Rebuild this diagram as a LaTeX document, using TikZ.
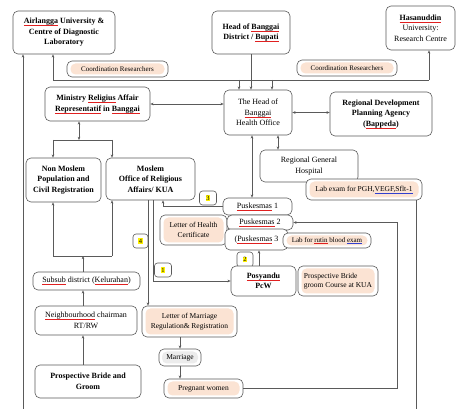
\documentclass[tikz,border=0pt]{standalone}
\usepackage{fontspec}
\setmainfont{Liberation Serif}
\usepackage{tikz}
\usetikzlibrary{positioning,arrows.meta}
\definecolor{notepeach}{HTML}{FBE3D3}
\definecolor{linegray}{HTML}{5A5A5A}
\definecolor{spellred}{HTML}{E02020}
\definecolor{spellblue}{HTML}{3040D0}
\newlength\spellwd
\newcommand\redul[1]{\settowidth{\spellwd}{#1}\rlap{\textcolor{spellred}{\rule[-0.5ex]{\spellwd}{0.45pt}}}#1}
\newcommand\blueul[1]{\settowidth{\spellwd}{#1}\rlap{\textcolor{spellblue}{\rule[-0.5ex]{\spellwd}{0.45pt}}}#1}
\newcommand\numhl[1]{{\setlength{\fboxsep}{0.6pt}\colorbox{yellow}{#1}}}

\begin{document}
\begin{tikzpicture}[x=1pt, y=-1pt,
    >={Stealth[length=3.2pt,width=2.6pt]},
    orgbox/.style={draw=linegray, rounded corners=5pt, line width=0.6pt, fill=white,
                 align=center, inner sep=1pt, font=\fontsize{8}{10.5}\selectfont},
    keybox/.style={orgbox, font=\fontsize{8}{10.5}\selectfont\bfseries},
    notebox/.style={orgbox, font=\fontsize{7.5}{9.5}\selectfont,
                 path picture={\fill[notepeach] ([shift={(3.5pt,-2.5pt)}]path picture bounding box.north west)
                 rectangle ([shift={(-3.5pt,2.5pt)}]path picture bounding box.south east);}},
    graynote/.style={orgbox, font=\fontsize{7.5}{9.5}\selectfont,
                 path picture={\fill[gray!15] ([shift={(3pt,-2.5pt)}]path picture bounding box.north west)
                 rectangle ([shift={(-3pt,2.5pt)}]path picture bounding box.south east);}},
    numbox/.style={orgbox, rounded corners=3pt, minimum width=17pt, minimum height=14pt, font=\fontsize{6.5}{7}\selectfont},
    arrow/.style={->, draw=linegray, line width=0.5pt},
    dblarrow/.style={<->, draw=linegray, line width=0.5pt},
    link/.style={draw=linegray, line width=0.5pt},
]
\useasboundingbox[fill=white] (0,0) rectangle (456,409);

\node[keybox, minimum width=102pt, minimum height=43pt] (airlangga) at (64,32.5) {\redul{Airlangga} University \&\\ Centre of Diagnostic\\ Laboratory};
\node[keybox, minimum width=78pt, minimum height=43pt] (bupati) at (251,32.5) {Head of \redul{Banggai}\\ District / \redul{Bupati}};
\node[orgbox, minimum width=69pt, minimum height=44pt] (hasanuddin) at (420.5,28) {\textbf{\redul{Hasanuddin}}\\ University:\\ Research Centre};
\node[notebox, minimum width=101pt, minimum height=16pt, font=\fontsize{7}{8}\selectfont] (coordleft) at (117.5,69) {Coordination Researchers};
\node[notebox, minimum width=100pt, minimum height=16pt, font=\fontsize{7}{8}\selectfont] (coordright) at (347,68) {Coordination Researchers};

\node[keybox, minimum width=105pt, minimum height=34pt] (ministry) at (97.5,104) {Ministry \redul{Religius} Affair\\ \redul{Representatif} in \redul{Banggai}};
\node[orgbox, minimum width=68pt, minimum height=45pt] (health) at (258,112.5) {The Head of\\ \redul{Banggai}\\ Health Office};
\node[keybox, minimum width=102pt, minimum height=44pt] (bappeda) at (381,114) {Regional Development\\ Planning Agency\\ (\redul{Bappeda})};

\node[keybox, minimum width=75pt, minimum height=44pt] (nonmoslem) at (63.5,180) {Non Moslem\\ Population and\\ Civil Registration};
\node[keybox, minimum width=89pt, minimum height=42pt] (kua) at (150.5,179) {Moslem\\ Office of Religious\\ Affairs/ KUA};
\node[orgbox, minimum width=98pt, minimum height=32pt] (hospital) at (309,166) {Regional General\\ Hospital};
\node[notebox, minimum width=116pt, minimum height=21pt] (labpgh) at (364,189.5) {Lab exam for PGH,\blueul{VEGF,Sflt-1}};

\node[notebox, minimum width=67pt, minimum height=30pt] (healthcert) at (193.5,230) {Letter of Health\\ Certificate};
\node[orgbox, minimum width=69pt, minimum height=17pt] (pusk1) at (257.5,206.5) {\redul{Puskesmas} 1};
\node[orgbox, minimum width=66pt, minimum height=15pt] (pusk2) at (260,222.5) {\redul{Puskesmas} 2};
\node[orgbox, minimum width=63pt, minimum height=21pt] (pusk3) at (256.5,239.5) {(\redul{Puskesmas} 3};
\node[notebox, minimum width=88pt, minimum height=15pt, font=\fontsize{7}{8}\selectfont] (labrutin) at (327,240.5) {Lab for \redul{rutin} blood \blueul{exam}};

\node[numbox] (numthree) at (208,198) {\numhl{3}};
\node[numbox, minimum width=15pt] (numfour) at (140.5,241) {\numhl{4}};
\node[numbox] (numone) at (163,270) {\numhl{1}};
\node[numbox, minimum width=16pt, minimum height=15pt] (numtwo) at (245,259.5) {\numhl{2}};

\node[orgbox, minimum width=107pt, minimum height=18pt] (subsub) at (86.5,281) {\redul{Subsub} district (\redul{Kelurahan})};
\node[keybox, minimum width=65pt, minimum height=30pt] (posyandu) at (263.5,281) {\redul{Posyandu}\\ PcW};
\node[notebox, minimum width=80pt, minimum height=30pt, align=left] (course) at (338,281) {Prospective Bride\\ groom Course at KUA};

\node[orgbox, minimum width=102pt, minimum height=29pt] (neighbour) at (86,320.5) {\redul{Neighbourhood} chairman\\ RT/RW};
\node[notebox, minimum width=95pt, minimum height=31pt] (lettermarriage) at (189.5,321.5) {Letter of Marriage\\ Regulation\& Registration};
\node[graynote, minimum width=42pt, minimum height=17pt] (marriage) at (180,357.5) {Marriage};
\node[keybox, minimum width=106pt, minimum height=33pt] (bride) at (88,381.5) {Prospective Bride and\\ Groom};
\node[notebox, minimum width=79pt, minimum height=19pt] (pregnant) at (203.5,388.5) {Pregnant women};

\coordinate (leftfoot) at (23,409);
\coordinate (labfoot) at (416,409);
\coordinate (railwest) at (53,80);
\coordinate (raileast) at (429,80);
\coordinate (healthwest) at (239,80);
\coordinate (healtheast) at (272,80);
\coordinate (split) at (79,140);
\coordinate (splitwest) at (53,140);
\coordinate (spliteast) at (112,140);
\coordinate (join) at (83,256);
\coordinate (joinwest) at (53,256);
\coordinate (joineast) at (112,256);
\coordinate (kuadrop) at (148,0);
\coordinate (kuaside) at (153,0);
\coordinate (kuaback) at (163,0);
\coordinate (pregturn) at (397,0);
\coordinate (healthpus) at (252,0);
\coordinate (healthhos) at (278,0);
\coordinate (posyup) at (259,0);

\draw[arrow] (leftfoot) -- (leftfoot |- airlangga.south);
\draw[link] (railwest) -- (raileast);
\draw[arrow] (railwest) -- (railwest |- airlangga.south);
\draw[arrow] (raileast) -- (raileast |- hasanuddin.south);
\draw[arrow] (healthwest) -- (healthwest |- health.north);
\draw[arrow] (healtheast) -- (healtheast |- health.north);
\draw[arrow] (bupati.south) -- (bupati.south |- health.north);
\draw[dblarrow] (ministry.east) -- (ministry.east -| health.west);
\draw[dblarrow] (health.east) -- (health.east -| bappeda.west);

\draw[dblarrow] (split |- ministry.south) -- (split);
\draw[link] (splitwest) -- (spliteast);
\draw[arrow] (splitwest) -- (splitwest |- nonmoslem.north);
\draw[arrow] (spliteast) -- (spliteast |- kua.north);
\draw[arrow] (join |- subsub.north) -- (join);
\draw[link] (joinwest) -- (joineast);
\draw[arrow] (joinwest) -- (joinwest |- nonmoslem.south);
\draw[arrow] (joineast) -- (joineast |- kua.south);
\draw[arrow] (join |- neighbour.north) -- (join |- subsub.south);
\draw[arrow] (join |- bride.north) -- (join |- neighbour.south);

\draw[dblarrow] (healthpus |- health.south) -- (healthpus |- pusk1.north);
\draw[dblarrow] (healthhos |- health.south) -- (healthhos |- hospital.north);
\draw[arrow] (kuadrop |- kua.south) -- (kuadrop |- lettermarriage.north);
\draw[arrow] (kuaside |- kua.south) |- (posyandu.west);
\draw[arrow] (pusk1.west) -| (kuaback |- kua.south);
\draw[arrow] (posyup |- posyandu.north) -- (posyup |- pusk3.south);
\draw[arrow] (marriage.north |- lettermarriage.south) -- (marriage.north);
\draw[arrow] (marriage.south) -- (marriage.south |- pregnant.north);
\draw[arrow] (pregnant.east) -| (pregturn |- pusk2.east) -- (pusk2.east);
\draw[link] (labfoot |- labpgh.south) -- (labfoot);
\end{tikzpicture}
\end{document}
